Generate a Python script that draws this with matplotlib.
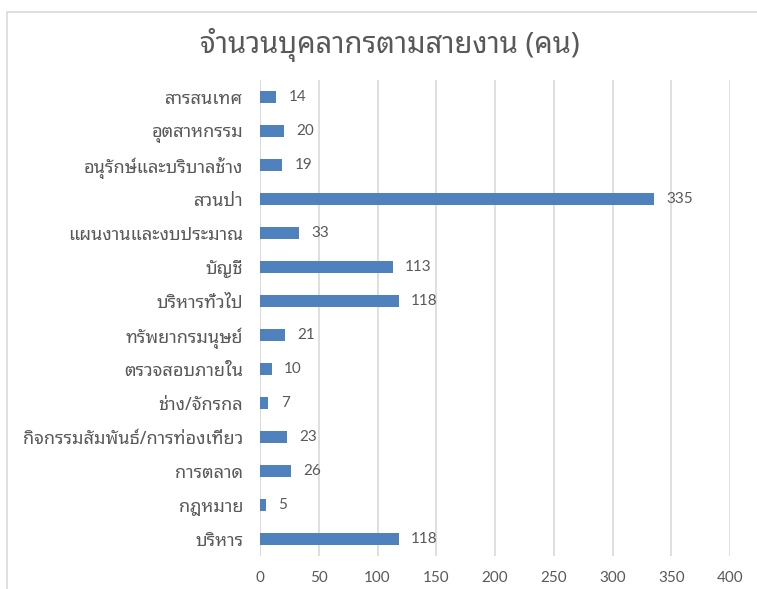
import matplotlib
matplotlib.use("Agg")
import matplotlib.pyplot as plt
from matplotlib.patches import Rectangle

plt.rcParams['font.family'] = ['Noto Sans Thai Looped', 'DejaVu Sans']

# categories as Excel stores them (first one drawn at the bottom)
categories = ['บริหาร', 'กฎหมาย', 'การตลาด', 'กิจกรรมสัมพันธ์/การท่องเที่ยว',
              'ช่าง/จักรกล', 'ตรวจสอบภายใน', 'ทรัพยากรมนุษย์', 'บริหารทั่วไป',
              'บัญชี', 'แผนงานและงบประมาณ', 'สวนป่า', 'อนุรักษ์และบริบาลช้าง',
              'อุตสาหกรรม', 'สารสนเทศ']
counts = [118, 5, 26, 23, 7, 10, 21, 118, 113, 33, 335, 19, 20, 14]
xticks = [0, 50, 100, 150, 200, 250, 300, 350, 400]
title = 'จำนวนบุคลากรตามสายงาน (คน)'

text_col = '#595959'
grid_col = '#D9D9D9'
bar_col = '#4F81BD'
num_font = ['Lato', 'DejaVu Sans']

fig = plt.figure(figsize=(7.57, 5.89), dpi=100)
W, H = 757, 589

# chart area border (cropped screenshot of an Excel chart)
fig.patches.append(Rectangle((7 / W, -0.1), 1.2, 1 - 12 / H + 0.1, transform=fig.transFigure,
                             fill=False, edgecolor=grid_col, lw=1.2))

ax = fig.add_axes([260 / W, 1 - 556 / H, 470 / W, 476 / H])
y = list(range(len(categories)))
ax.barh(y, counts, height=0.36, color=bar_col, zorder=3)

for yi, v in zip(y, counts):
    ax.annotate(str(v), (v, yi), xytext=(9, 0), textcoords='offset points',
                va='center', ha='left', fontsize=11, color=text_col, family=num_font)

ax.set_xlim(0, 400)
ax.set_ylim(-0.5, len(categories) - 0.5)
ax.set_xticks(xticks)
ax.set_xticklabels([str(t) for t in xticks], family=num_font)
ax.set_yticks(y)
ax.set_yticklabels(categories)
ax.tick_params(axis='y', length=0, pad=12, labelsize=13, labelcolor=text_col)
ax.tick_params(axis='x', length=0, pad=11, labelsize=11, labelcolor=text_col)
ax.grid(axis='x', color=grid_col, lw=1.2, zorder=0)
for s in ax.spines.values():
    s.set_visible(False)
ax.axvline(0, color=grid_col, lw=1.2, zorder=2)

fig.text(390 / W, 1 - 45 / H, title, ha='center', va='center', fontsize=21, color=text_col)

fig.savefig('out.png')
